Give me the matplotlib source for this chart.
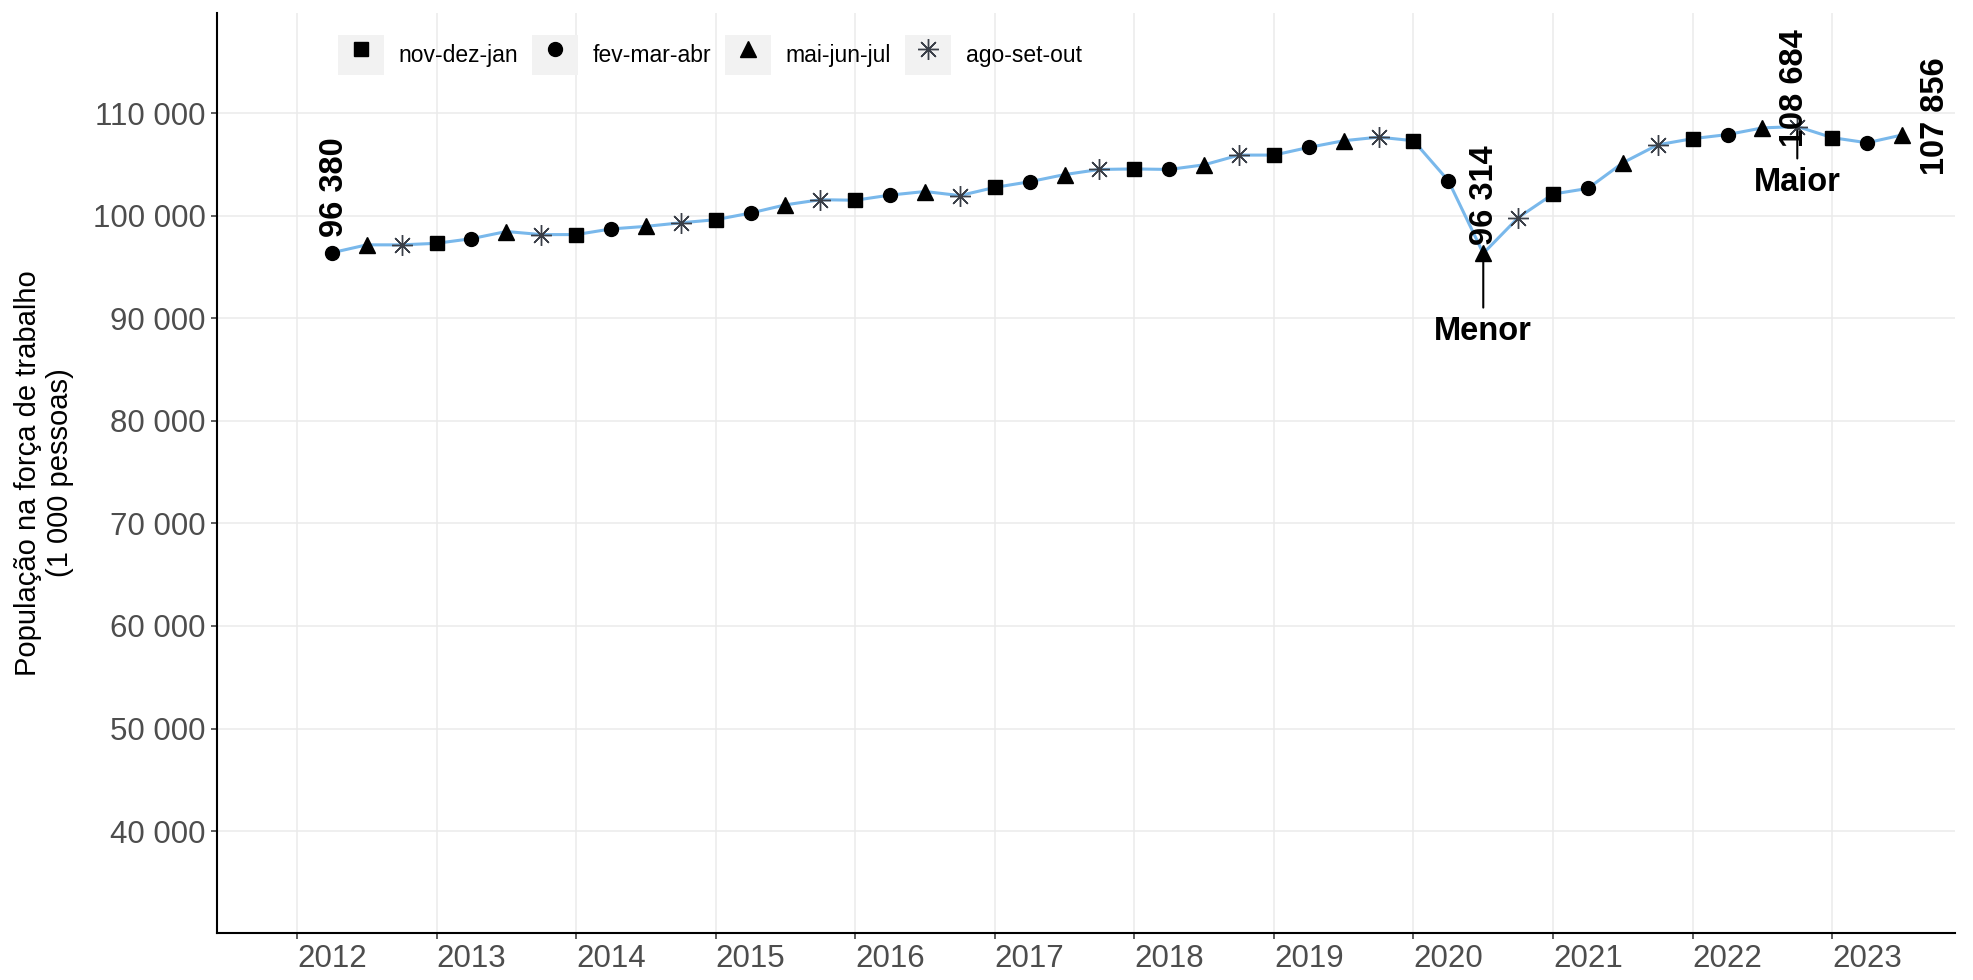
import matplotlib
matplotlib.use("Agg")
import matplotlib.pyplot as plt
import numpy as np
from matplotlib.patches import Patch
from matplotlib.lines import Line2D
from matplotlib.legend_handler import HandlerTuple
from matplotlib.ticker import FuncFormatter

plt.rcParams['font.family'] = ['Liberation Sans', 'DejaVu Sans']

# data: trimestres moveis, de fev-mar-abr 2012 ate mai-jun-jul 2023 (1 000 pessoas)
trimestres = ["nov-dez-jan", "fev-mar-abr", "mai-jun-jul", "ago-set-out"]
primeiro_ano = 2012
primeiro_trim = 1  # fev-mar-abr
valores = [
    96380, 97150, 97150,
    97300, 97750, 98450, 98150,
    98150, 98700, 98950, 99300,
    99600, 100250, 101050, 101550,
    101500, 102000, 102350, 101950,
    102750, 103300, 104000, 104500,
    104550, 104500, 104950, 105900,
    105900, 106650, 107300, 107650,
    107300, 103400, 96314, 99800,
    102100, 102650, 105150, 106900,
    107500, 107900, 108550, 108684,
    107600, 107100, 107856,
]
anos = list(range(2012, 2024))
y_ticks = list(range(40000, 110001, 10000))

valores = np.array(valores)
idx = np.arange(len(valores)) + primeiro_trim
x = primeiro_ano + idx * 0.25
tipo = idx % 4

# style
fig = plt.figure(figsize=(19.73, 9.8), dpi=100)
ax = fig.add_axes([217 / 1973, 47 / 980, (1955 - 217) / 1973, (933 - 13) / 980])

ax.plot(x, valores, color="#79b8eb", linewidth=2.2, zorder=2)

markers = {
    0: dict(marker="s", markersize=9.5),
    1: dict(marker="o", markersize=10),
    2: dict(marker="^", markersize=11),
    3: dict(marker=(8, 2, 0), markersize=15, markeredgewidth=1.0),
}
cores = {0: "black", 1: "black", 2: "black", 3: "#3a3f48"}
for k in range(4):
    m = tipo == k
    ax.plot(x[m], valores[m], linestyle="none", color=cores[k],
            markeredgecolor=cores[k], zorder=3, **markers[k])

# axes settings
ax.set_xlim(2011.427, 2023.88)
ax.set_ylim(30070, 119750)
ax.set_xticks(anos)
ax.set_yticks(y_ticks)
ax.yaxis.set_major_formatter(FuncFormatter(lambda v, p: f"{int(v):,}".replace(",", " ")))
ax.grid(True, color="#ebebeb", linewidth=1.1)
ax.set_axisbelow(True)
for s in ["top", "right"]:
    ax.spines[s].set_visible(False)
for s in ["left", "bottom"]:
    ax.spines[s].set_linewidth(1.5)
ax.tick_params(axis="both", labelsize=22.5, labelcolor="#4d4d4d", color="#333333",
               length=4, width=1.1, pad=4)
plt.setp(ax.get_xticklabels(), ha="left")

fig.text(44 / 1973, 1 - 473 / 980, "População na força de trabalho\n(1 000 pessoas)",
         rotation=90, ha="center", va="center", fontsize=21, linespacing=1.15)

# labels
def fmt(v):
    return f"{int(v):,}".replace(",", " ")

i_min = int(np.argmin(valores))
i_max = int(np.argmax(valores))
i_first, i_last = 0, len(valores) - 1

lab_kw = dict(rotation=90, fontsize=23.5, fontweight="bold", ha="center", va="bottom",
              textcoords="offset points", zorder=5)
ax.annotate(fmt(valores[i_first]), (x[i_first], valores[i_first]), xytext=(2, 11), **lab_kw)
ax.annotate(fmt(valores[i_min]), (x[i_min], valores[i_min]), xytext=(1, 6), **lab_kw)
ax.annotate(fmt(valores[i_max]), (x[i_max], valores[i_max]), xytext=(-2, -15), **lab_kw)
ax.annotate(fmt(valores[i_last]), (x[i_last], valores[i_last]), xytext=(24, -29), **lab_kw)

arrow = dict(arrowstyle="-", color="black", lw=1.5, shrinkA=4, shrinkB=3)
ax.annotate("Menor", (x[i_min], valores[i_min]), xytext=(0, -45), textcoords="offset points",
            ha="center", va="top", fontsize=23.5, fontweight="bold", arrowprops=arrow, zorder=5)
ax.annotate("Maior", (x[i_max], valores[i_max]), xytext=(0, -29), textcoords="offset points",
            ha="center", va="top", fontsize=23.5, fontweight="bold", arrowprops=arrow, zorder=5)

# legend with grey key boxes
handles = []
for k in range(4):
    h = Line2D([], [], linestyle="none", color=cores[k], markeredgecolor=cores[k], **markers[k])
    handles.append((Patch(facecolor="#f2f2f2", edgecolor="none"), h))
ax.legend(handles, trimestres, handler_map={tuple: HandlerTuple(ndivide=1)},
          loc="upper left", bbox_to_anchor=(0.0696, 0.976), ncol=4, frameon=False,
          fontsize=16.5, borderpad=0, borderaxespad=0, handlelength=2.0,
          handleheight=2.3, handletextpad=0.65, columnspacing=0.6)

fig.savefig("out.png", dpi=100)
